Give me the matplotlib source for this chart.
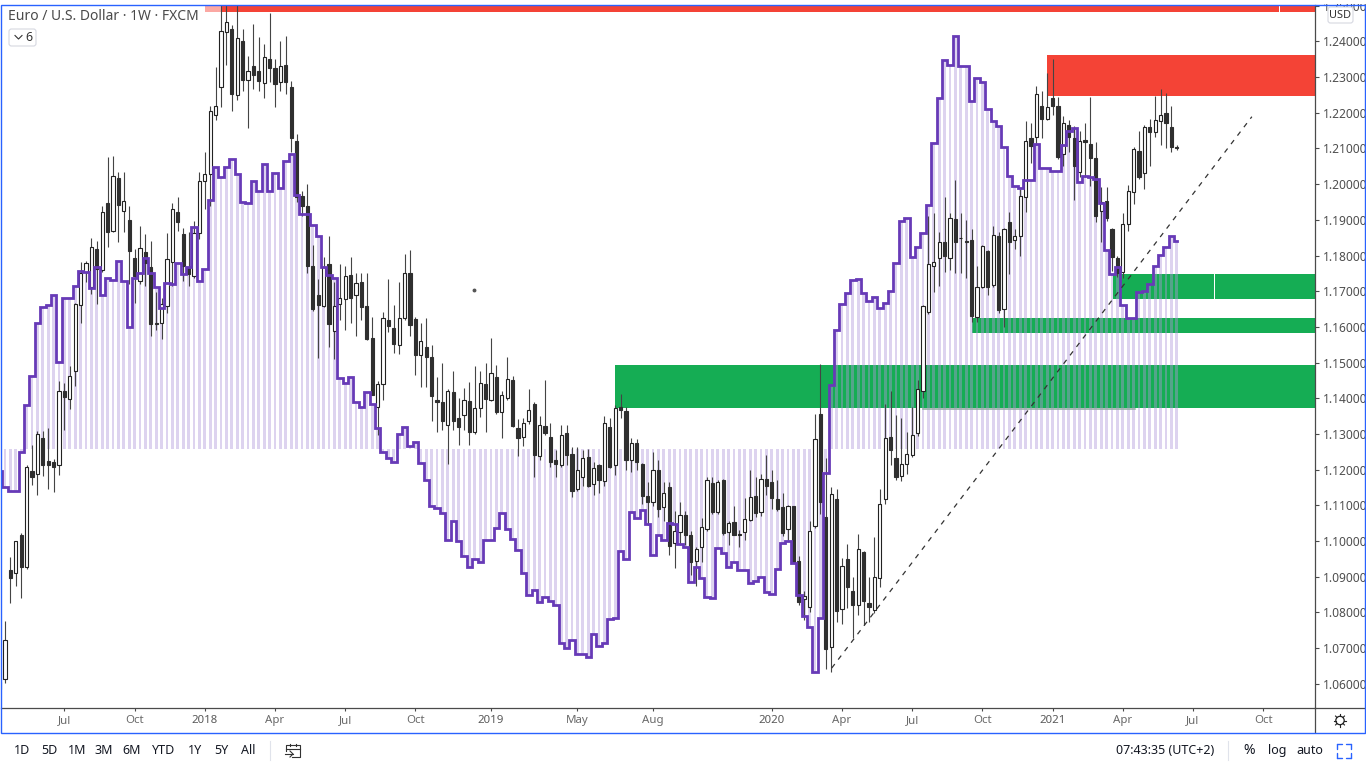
import numpy as np
import matplotlib
matplotlib.use('Agg')
import matplotlib.pyplot as plt
from matplotlib.patches import Rectangle, FancyBboxPatch, Circle

plt.rcParams['font.family'] = ['Noto Sans', 'DejaVu Sans']

# EUR/USD weekly candles (first one is the cut off stub at the left edge)
opens = [1.0605,
    1.0613,1.0920,1.0911,1.1018,1.0928,1.1197,1.1189,1.1290,1.1225,1.1222,
    1.1212,1.1420,1.1397,1.1475,1.1662,1.1753,1.1711,1.1817,1.1758,1.1947,
    1.1870,1.2017,1.1925,1.1899,1.1792,1.1728,1.1811,1.1767,1.1610,1.1612,
    1.1658,1.1783,1.1921,1.1860,1.1765,1.1742,1.1862,1.2008,1.2028,1.2195,
    1.2272,1.2425,1.2435,1.2250,1.2400,1.2293,1.2330,1.2317,1.2283,1.2350,
    1.2325,1.2285,1.2333,1.2272,1.2122,1.1968,1.1940,1.1770,1.1690,1.1658,
    1.1775,1.1588,1.1663,1.1678,1.1745,1.1688,1.1725,1.1658,1.1570,1.1375,
    1.1440,1.1618,1.1598,1.1548,1.1625,1.1752,1.1622,1.1520,1.1543,1.1517,
    1.1396,1.1390,1.1325,1.1418,1.1345,1.1352,1.1392,1.1305,1.1372,1.1440,
    1.1395,1.1460,1.1362,1.1400,1.1450,1.1318,1.1292,1.1335,1.1385,1.1238,
    1.1322,1.1292,1.1228,1.1212,1.1302,1.1245,1.1145,1.1178,1.1235,1.1160,
    1.1212,1.1168,1.1320,1.1212,1.1375,1.1365,1.1228,1.1275,1.1215,1.1125,
    1.1110,1.1200,1.1095,1.1150,1.0993,1.1025,1.1073,1.1018,1.0943,1.0982,
    1.1033,1.1162,1.1082,1.1170,1.1024,1.1052,1.1018,1.1024,1.1060,1.1125,
    1.1080,1.1175,1.1165,1.1118,1.1095,1.1033,1.1097,1.0943,1.0838,1.0815,
    1.1042,1.1355,1.1067,1.0703,1.1118,1.0810,1.0950,1.0860,1.0822,1.0970,
    1.0827,1.0807,1.0897,1.1117,1.1292,1.1233,1.1183,1.1217,1.1240,1.1303,
    1.1420,1.1643,1.1770,1.1792,1.1838,1.1792,1.1902,1.1848,1.1840,1.1843,
    1.1627,1.1713,1.1812,1.1716,1.1855,1.1650,1.1893,1.1843,1.1855,1.1965,
    1.2130,1.2133,1.2220,1.2183,1.2240,1.2218,1.2085,1.2167,1.2128,1.2035,
    1.2125,1.2113,1.2072,1.1925,1.1953,1.1873,1.1792,1.1755,1.1887,1.1977,
    1.2092,1.2032,1.2160,1.2145,1.2177,1.2200,1.2160,1.2104]
closes = [1.0585,
    1.0723,1.0897,1.0999,1.0928,1.1208,1.1180,1.1301,1.1212,1.1212,1.1208,
    1.1420,1.1403,1.1462,1.1665,1.1750,1.1778,1.1825,1.1762,1.1923,1.1865,
    1.2022,1.1941,1.1953,1.1812,1.1742,1.1820,1.1778,1.1607,1.1608,1.1665,
    1.1790,1.1929,1.1893,1.1770,1.1748,1.1862,1.2008,1.2028,1.2205,1.2220,
    1.2430,1.2455,1.2252,1.2410,1.2293,1.2318,1.2305,1.2290,1.2355,1.2325,
    1.2280,1.2330,1.2285,1.2128,1.1965,1.1938,1.1770,1.1650,1.1660,1.1768,
    1.1608,1.1658,1.1682,1.1742,1.1682,1.1722,1.1655,1.1565,1.1410,1.1440,
    1.1625,1.1602,1.1552,1.1625,1.1750,1.1605,1.1520,1.1560,1.1515,1.1405,
    1.1390,1.1335,1.1420,1.1335,1.1320,1.1395,1.1305,1.1372,1.1442,1.1398,
    1.1472,1.1362,1.1408,1.1455,1.1322,1.1290,1.1332,1.1368,1.1240,1.1325,
    1.1302,1.1220,1.1215,1.1298,1.1240,1.1139,1.1200,1.1232,1.1155,1.1205,
    1.1170,1.1332,1.1208,1.1372,1.1368,1.1228,1.1275,1.1222,1.1125,1.1110,
    1.1198,1.1090,1.1135,1.0987,1.1027,1.1072,1.1018,1.0940,1.0977,1.1038,
    1.1170,1.1080,1.1165,1.1022,1.1050,1.1018,1.1018,1.1062,1.1122,1.1078,
    1.1175,1.1155,1.1120,1.1090,1.1023,1.1097,1.0940,1.0830,1.0845,1.1027,
    1.1287,1.1108,1.0697,1.1132,1.0805,1.0930,1.0872,1.0822,1.0978,1.0833,
    1.0815,1.0900,1.1103,1.1290,1.1255,1.1178,1.1217,1.1243,1.1298,1.1425,
    1.1658,1.1775,1.1782,1.1838,1.1798,1.1905,1.1838,1.1848,1.1838,1.1630,
    1.1713,1.1827,1.1713,1.1857,1.1647,1.1875,1.1838,1.1855,1.1967,1.2122,
    1.2108,1.2253,1.2183,1.2217,1.2218,1.2075,1.2170,1.2133,1.2050,1.2120,
    1.2117,1.2072,1.1910,1.1950,1.1905,1.1795,1.1752,1.1888,1.1980,1.2098,
    1.2020,1.2160,1.2145,1.2180,1.2193,1.2170,1.2105,1.2102]
highs = [1.0605,
    1.0776,1.0955,1.1000,1.1023,1.1214,1.1270,1.1307,1.1307,1.1318,1.1230,
    1.1448,1.1442,1.1490,1.1667,1.1782,1.1784,1.1850,1.1840,1.1940,1.2075,
    1.2078,1.2034,1.2034,1.1940,1.1817,1.1882,1.1860,1.1840,1.1697,1.1682,
    1.1862,1.1947,1.1965,1.1877,1.1865,1.1897,1.2035,1.2089,1.2220,1.2328,
    1.2505,1.2505,1.2445,1.2505,1.2435,1.2358,1.2450,1.2412,1.2392,1.2480,
    1.2350,1.2400,1.2415,1.2290,1.2140,1.1980,1.2000,1.1830,1.1735,1.1795,
    1.1855,1.1725,1.1775,1.1770,1.1795,1.1750,1.1752,1.1750,1.1628,1.1448,
    1.1643,1.1735,1.1660,1.1725,1.1805,1.1815,1.1628,1.1610,1.1625,1.1550,
    1.1460,1.1500,1.1425,1.1475,1.1402,1.1428,1.1445,1.1490,1.1475,1.1500,
    1.1568,1.1492,1.1420,1.1515,1.1462,1.1343,1.1345,1.1425,1.1390,1.1350,
    1.1450,1.1332,1.1255,1.1325,1.1325,1.1262,1.1262,1.1255,1.1258,1.1220,
    1.1215,1.1350,1.1345,1.1380,1.1412,1.1375,1.1288,1.1287,1.1218,1.1165,
    1.1250,1.1228,1.1165,1.1165,1.1083,1.1108,1.1085,1.1027,1.0982,1.1065,
    1.1178,1.1180,1.1172,1.1175,1.1055,1.1097,1.1032,1.1120,1.1200,1.1178,
    1.1188,1.1242,1.1200,1.1172,1.1135,1.1102,1.1098,1.0957,1.0860,1.1055,
    1.1355,1.1497,1.1232,1.1150,1.1147,1.0953,1.0992,1.0900,1.1020,1.0973,
    1.0900,1.1010,1.1147,1.1385,1.1420,1.1352,1.1345,1.1305,1.1375,1.1452,
    1.1660,1.1910,1.1918,1.1866,1.1965,1.1920,1.2013,1.1920,1.1900,1.1875,
    1.1770,1.1830,1.1815,1.1882,1.1865,1.1878,1.1922,1.1875,1.1985,1.2178,
    1.2170,1.2275,1.2260,1.2312,1.2352,1.2245,1.2190,1.2180,1.2162,1.2148,
    1.2172,1.2245,1.2117,1.1992,1.1992,1.1878,1.1798,1.1920,1.1997,1.2105,
    1.2150,1.2165,1.2183,1.2247,1.2267,1.2255,1.2218,1.2110]
lows = [1.0582,
    1.0602,1.0825,1.0873,1.0840,1.0922,1.1157,1.1128,1.1183,1.1147,1.1137,
    1.1186,1.1310,1.1370,1.1433,1.1612,1.1725,1.1692,1.1664,1.1755,1.1823,
    1.1865,1.1838,1.1865,1.1720,1.1667,1.1720,1.1714,1.1574,1.1592,1.1565,
    1.1640,1.1714,1.1870,1.1728,1.1715,1.1738,1.1845,1.1930,1.1938,1.2180,
    1.2215,1.2335,1.2204,1.2235,1.2260,1.2157,1.2268,1.2260,1.2240,1.2285,
    1.2215,1.2260,1.2252,1.2090,1.1950,1.1912,1.1752,1.1645,1.1512,1.1655,
    1.1545,1.1510,1.1620,1.1592,1.1610,1.1575,1.1620,1.1562,1.1408,1.1298,
    1.1395,1.1585,1.1528,1.1525,1.1618,1.1575,1.1465,1.1432,1.1432,1.1335,
    1.1305,1.1310,1.1215,1.1312,1.1268,1.1312,1.1270,1.1300,1.1347,1.1305,
    1.1393,1.1355,1.1290,1.1395,1.1320,1.1238,1.1265,1.1328,1.1180,1.1228,
    1.1298,1.1208,1.1178,1.1207,1.1212,1.1122,1.1140,1.1155,1.1150,1.1128,
    1.1135,1.1155,1.1205,1.1185,1.1345,1.1200,1.1192,1.1200,1.1103,1.1045,
    1.1098,1.1068,1.1055,1.0962,1.0925,1.0990,1.0990,1.0905,1.0875,1.0940,
    1.1027,1.1075,1.1075,1.1016,1.0988,1.1016,1.0982,1.1003,1.1055,1.1068,
    1.1070,1.1130,1.1090,1.1085,1.1015,1.1003,1.0937,1.0822,1.0780,1.0802,
    1.1037,1.1075,1.0640,1.0633,1.0772,1.0768,1.0813,1.0728,1.0793,1.0765,
    1.0772,1.0798,1.0872,1.1103,1.1212,1.1170,1.1168,1.1187,1.1235,1.1295,
    1.1402,1.1635,1.1697,1.1715,1.1755,1.1760,1.1752,1.1752,1.1738,1.1613,
    1.1615,1.1710,1.1688,1.1712,1.1640,1.1600,1.1748,1.1817,1.1800,1.1922,
    1.2060,1.2110,1.2130,1.2180,1.2195,1.2070,1.2052,1.2090,1.1955,1.2020,
    1.2020,1.1995,1.1893,1.1838,1.1898,1.1757,1.1740,1.1738,1.1868,1.1945,
    1.2015,1.1985,1.2050,1.2133,1.2110,1.2102,1.2090,1.2095]

# purple indicator line, same weeks as the candles
indicator = [1.1196,
    1.1151,1.1140,1.1140,1.1249,1.1381,1.1462,1.1611,1.1656,1.1661,1.1689,
    1.1502,1.1681,1.1681,1.1715,1.1757,1.1754,1.1709,1.1768,1.1689,1.1737,
    1.1731,1.1785,1.1729,1.1600,1.1737,1.1751,1.1793,1.1751,1.1712,1.1653,
    1.1723,1.1720,1.1779,1.1748,1.1768,1.1880,1.1729,1.1762,1.1956,1.2048,
    1.2020,1.2048,1.2071,1.2029,1.1950,1.1947,1.2009,1.1981,1.2057,1.1981,
    1.2031,1.1989,1.2065,1.2085,1.1970,1.1916,1.1916,1.1886,1.1855,1.1768,
    1.1746,1.1737,1.1457,1.1443,1.1460,1.1390,1.1376,1.1418,1.1384,1.1317,
    1.1249,1.1233,1.1222,1.1300,1.1320,1.1266,1.1278,1.1219,1.1171,1.1098,
    1.1093,1.1079,1.1003,1.1056,1.1000,1.0958,1.0927,1.0950,1.0941,1.1003,
    1.1003,1.1037,1.1079,1.1034,1.1006,1.0975,1.0910,1.0849,1.0863,1.0829,
    1.0843,1.0832,1.0821,1.0714,1.0700,1.0723,1.0683,1.0683,1.0675,1.0739,
    1.0706,1.0714,1.0781,1.0784,1.0972,1.0950,1.1081,1.1065,1.1087,1.1048,
    1.0961,1.1017,1.1003,1.1051,1.1048,1.0992,1.0983,1.0885,1.0927,1.0896,
    1.0843,1.0840,1.0980,1.0966,1.0927,1.0941,1.0919,1.0919,1.0882,1.0888,
    1.0899,1.0857,1.0851,1.0921,1.0994,1.1000,1.0938,1.0849,1.0790,1.0759,
    1.0633,1.0784,1.1190,1.1437,1.1591,1.1664,1.1695,1.1731,1.1734,1.1695,
    1.1673,1.1684,1.1653,1.1667,1.1701,1.1779,1.1897,1.1905,1.1796,1.1824,
    1.1863,1.1942,1.2115,1.2242,1.2348,1.2334,1.2415,1.2331,1.2331,1.2233,
    1.2298,1.2287,1.2211,1.2177,1.2163,1.2104,1.2023,1.1995,1.1989,1.2012,
    1.2012,1.2113,1.2045,1.2045,1.2037,1.2037,1.2110,1.2149,1.2158,1.2006,
    1.2023,1.2020,1.2015,1.1947,1.1816,1.1748,1.1768,1.1661,1.1625,1.1625,
    1.1698,1.1701,1.1720,1.1771,1.1802,1.1824,1.1855,1.1841]
hist_base = 1.1258

# supply / demand boxes: from week, to week, top, bottom
zone_from = [37.0, 40.2, 236.1, 193.05, 113.05, 179.07, 205.2, 224.05]
zone_to = [40.2, 235.9, 243.0, 243.0, 243.0, 243.0, 223.85, 243.0]
zone_top = [1.2530, 1.2530, 1.2530, 1.2362, 1.1493, 1.1625, 1.1748, 1.1748]
zone_bottom = [1.2482, 1.2482, 1.2482, 1.2247, 1.1373, 1.1583, 1.1677, 1.1677]
zone_color = ['#fba8a3', '#f44336', '#f44336', '#f44336', '#15ad54', '#15ad54', '#15ad54', '#15ad54']

trend_x = [153.1, 230.9]
trend_y = [1.0644, 1.2189]
grey_x = [170, 209.3]
grey_y = [1.1370, 1.1370]
dot_x = 86.9
dot_y = 1.1703

price_ticks = [1.06, 1.07, 1.08, 1.09, 1.10, 1.11, 1.12, 1.13, 1.14, 1.15, 1.16, 1.17,
               1.18, 1.19, 1.20, 1.21, 1.22, 1.23, 1.24, 1.25]
time_ticks = [11, 24, 37, 50, 63, 76, 90, 106, 120, 142, 155, 168, 181, 194, 207, 220, 233]
time_labels = ['Jul', 'Oct', '2018', 'Apr', 'Jul', 'Oct', '2019', 'May', 'Aug', '2020',
               'Apr', 'Jul', 'Oct', '2021', 'Apr', 'Jul', 'Oct']
range_labels = ['1D', '5D', '1M', '3M', '6M', 'YTD', '1Y', '5Y', 'All']

W, H = 1366, 768
px = 0.72  # points per pixel at dpi 100
fig = plt.figure(figsize=(W / 100, H / 100), dpi=100, facecolor='white')
ax = fig.add_axes([1 / W, 1 - 708 / H, 1313.5 / W, 703 / H])

weeks = np.arange(-1, len(opens) - 1)
o = np.array(opens)
c = np.array(closes)
h = np.array(highs)
l = np.array(lows)
ind = np.array(indicator)

for i in range(len(zone_from)):
    ax.add_patch(Rectangle((zone_from[i], zone_bottom[i]), zone_to[i] - zone_from[i],
                           zone_top[i] - zone_bottom[i], color=zone_color[i], lw=0, zorder=1))

ax.bar(weeks[1:], ind[1:] - hist_base, bottom=hist_base, width=0.52, color='#ae98d9',
       alpha=0.42, linewidth=0, zorder=2)

ax.plot(grey_x, grey_y, color='#94aaa4', lw=1.1, zorder=2.5)

up = c >= o
ax.vlines(weeks, l, h, color='#444444', lw=0.8, zorder=3)
body_low = np.minimum(o, c)
body_h = np.maximum(np.abs(c - o), 0.0002)
ax.bar(weeks[up], body_h[up], bottom=body_low[up], width=0.62, facecolor='white',
       edgecolor='#222222', linewidth=0.8, zorder=3.2)
ax.bar(weeks[~up], body_h[~up], bottom=body_low[~up], width=0.62, facecolor='#2f2f2f',
       edgecolor='#2f2f2f', linewidth=0.8, zorder=3.2)

ax.step(weeks, ind, where='mid', color='#673ab7', lw=2.0, zorder=4, solid_joinstyle='miter')
ax.plot(trend_x, trend_y, color='#333333', lw=0.9, dashes=(4, 4.5), zorder=5)
ax.plot([dot_x], [dot_y], 'o', color='#555555', ms=1.8, zorder=5)

ax.set_xlim(-0.741, 242.5)
ax.set_ylim(1.0532, 1.2502)
for s in ['top', 'left']:
    ax.spines[s].set_visible(False)
for s in ['right', 'bottom']:
    ax.spines[s].set_color('#4a4a4a')
    ax.spines[s].set_linewidth(0.9)
ax.yaxis.tick_right()
ax.set_yticks(price_ticks)
ax.set_yticklabels(['%.5f' % p for p in price_ticks])
ax.set_xticks(time_ticks)
ax.set_xticklabels(time_labels)
ax.tick_params(axis='y', length=3, width=0.8, color='#4a4a4a', labelcolor='#4f4f4f',
               labelsize=12 * px, pad=3)
ax.tick_params(axis='x', length=2.5, width=0.8, color='#4a4a4a', labelcolor='#6a6a6a',
               labelsize=11.5 * px, pad=2.5)
for t in ax.get_xticklabels():
    if t.get_text().startswith('20'):
        t.set_fontweight('bold')
        t.set_color('#5a5a5a')

# window chrome drawn in pixel coordinates on top
ui = fig.add_axes([0, 0, 1, 1], facecolor='none')
ui.set_xlim(0, W)
ui.set_ylim(H, 0)
ui.axis('off')
ui.add_patch(Rectangle((0, 0), W, 4, color='white', lw=0, zorder=1))
ui.add_patch(Rectangle((0, 732.5), W, 36, color='white', lw=0, zorder=1))
ui.plot([1314.5, 1365], [708, 708], color='#4a4a4a', lw=0.9, zorder=2)
ui.plot([1314.5, 1314.5], [708, 732], color='#4a4a4a', lw=0.9, zorder=2)
ui.add_patch(Rectangle((0.7, 4.5), W - 1.4, 728, fill=False, ec='#2962ff', lw=1.0, zorder=3))

ui.text(8, 16.5, 'Euro / U.S. Dollar · 1W · FXCM', fontsize=13.9 * px, color='#4a4a4a',
        va='center', ha='left')
ui.add_patch(FancyBboxPatch((9, 29), 27, 17, boxstyle='round,pad=0,rounding_size=2.5',
                            fc='white', ec='#d6d8e0', lw=0.8))
ui.plot([15, 18.5, 22], [35.5, 39, 35.5], color='#333333', lw=0.8)
ui.text(29, 37.5, '6', fontsize=12.5 * px, color='#333333', ha='center', va='center')
ui.add_patch(FancyBboxPatch((1328, 7), 25, 16, boxstyle='round,pad=0,rounding_size=2.5',
                            fc='white', ec='#d6d8e0', lw=0.8, zorder=2))
ui.text(1340.5, 15, 'USD', fontsize=11 * px, color='#333333', ha='center', va='center', zorder=3)

# gear
ui.add_patch(Circle((1340, 720.5), 4.2, fill=False, ec='#222222', lw=0.9))
for a in np.arange(0, 360, 45):
    ca, sa = np.cos(np.radians(a)), np.sin(np.radians(a))
    ui.plot([1340 + 4.2 * ca, 1340 + 6.3 * ca], [720.5 + 4.2 * sa, 720.5 + 6.3 * sa],
            color='#222222', lw=0.8)

# bottom toolbar
range_x = [22, 49, 77, 104, 132, 164, 195, 221, 248]
for x, s in zip(range_x, range_labels):
    ui.text(x, 750.5, s, fontsize=12.5 * px, color='#131722', ha='center', va='center')
ui.plot([270, 270], [741, 760], color='#e0e3eb', lw=0.8)
ui.plot([1228, 1228], [741, 760], color='#e0e3eb', lw=0.8)
ui.plot([286, 286, 300, 300, 292], [751, 745, 745, 757, 757], color='#333333', lw=0.8)
ui.plot([286, 300], [748.5, 748.5], color='#333333', lw=0.8)
ui.plot([290, 290], [743.5, 746], color='#333333', lw=0.8)
ui.plot([296, 296], [743.5, 746], color='#333333', lw=0.8)
ui.plot([285, 293], [754, 754], color='#333333', lw=0.8)
ui.plot([290, 293, 290], [751, 754, 757], color='#333333', lw=0.8)

ui.text(1165, 750.5, '07:43:35 (UTC+2)', fontsize=12.5 * px, color='#131722', ha='center', va='center')
ui.text(1249, 750.5, '%', fontsize=14 * px, color='#131722', ha='center', va='center')
ui.text(1277, 750.5, 'log', fontsize=12.5 * px, color='#131722', ha='center', va='center')
ui.text(1310, 750.5, 'auto', fontsize=12.5 * px, color='#131722', ha='center', va='center')
for x0, x1, y0, y1 in [(1337, 1342, 744, 749), (1351, 1346, 744, 749), (1337, 1342, 758, 753), (1351, 1346, 758, 753)]:
    ui.plot([x0, x0], [y1, y0], color='#2962ff', lw=1.0, solid_capstyle='round')
    ui.plot([x0, x1], [y0, y0], color='#2962ff', lw=1.0, solid_capstyle='round')

fig.savefig('out.png', dpi=100)
